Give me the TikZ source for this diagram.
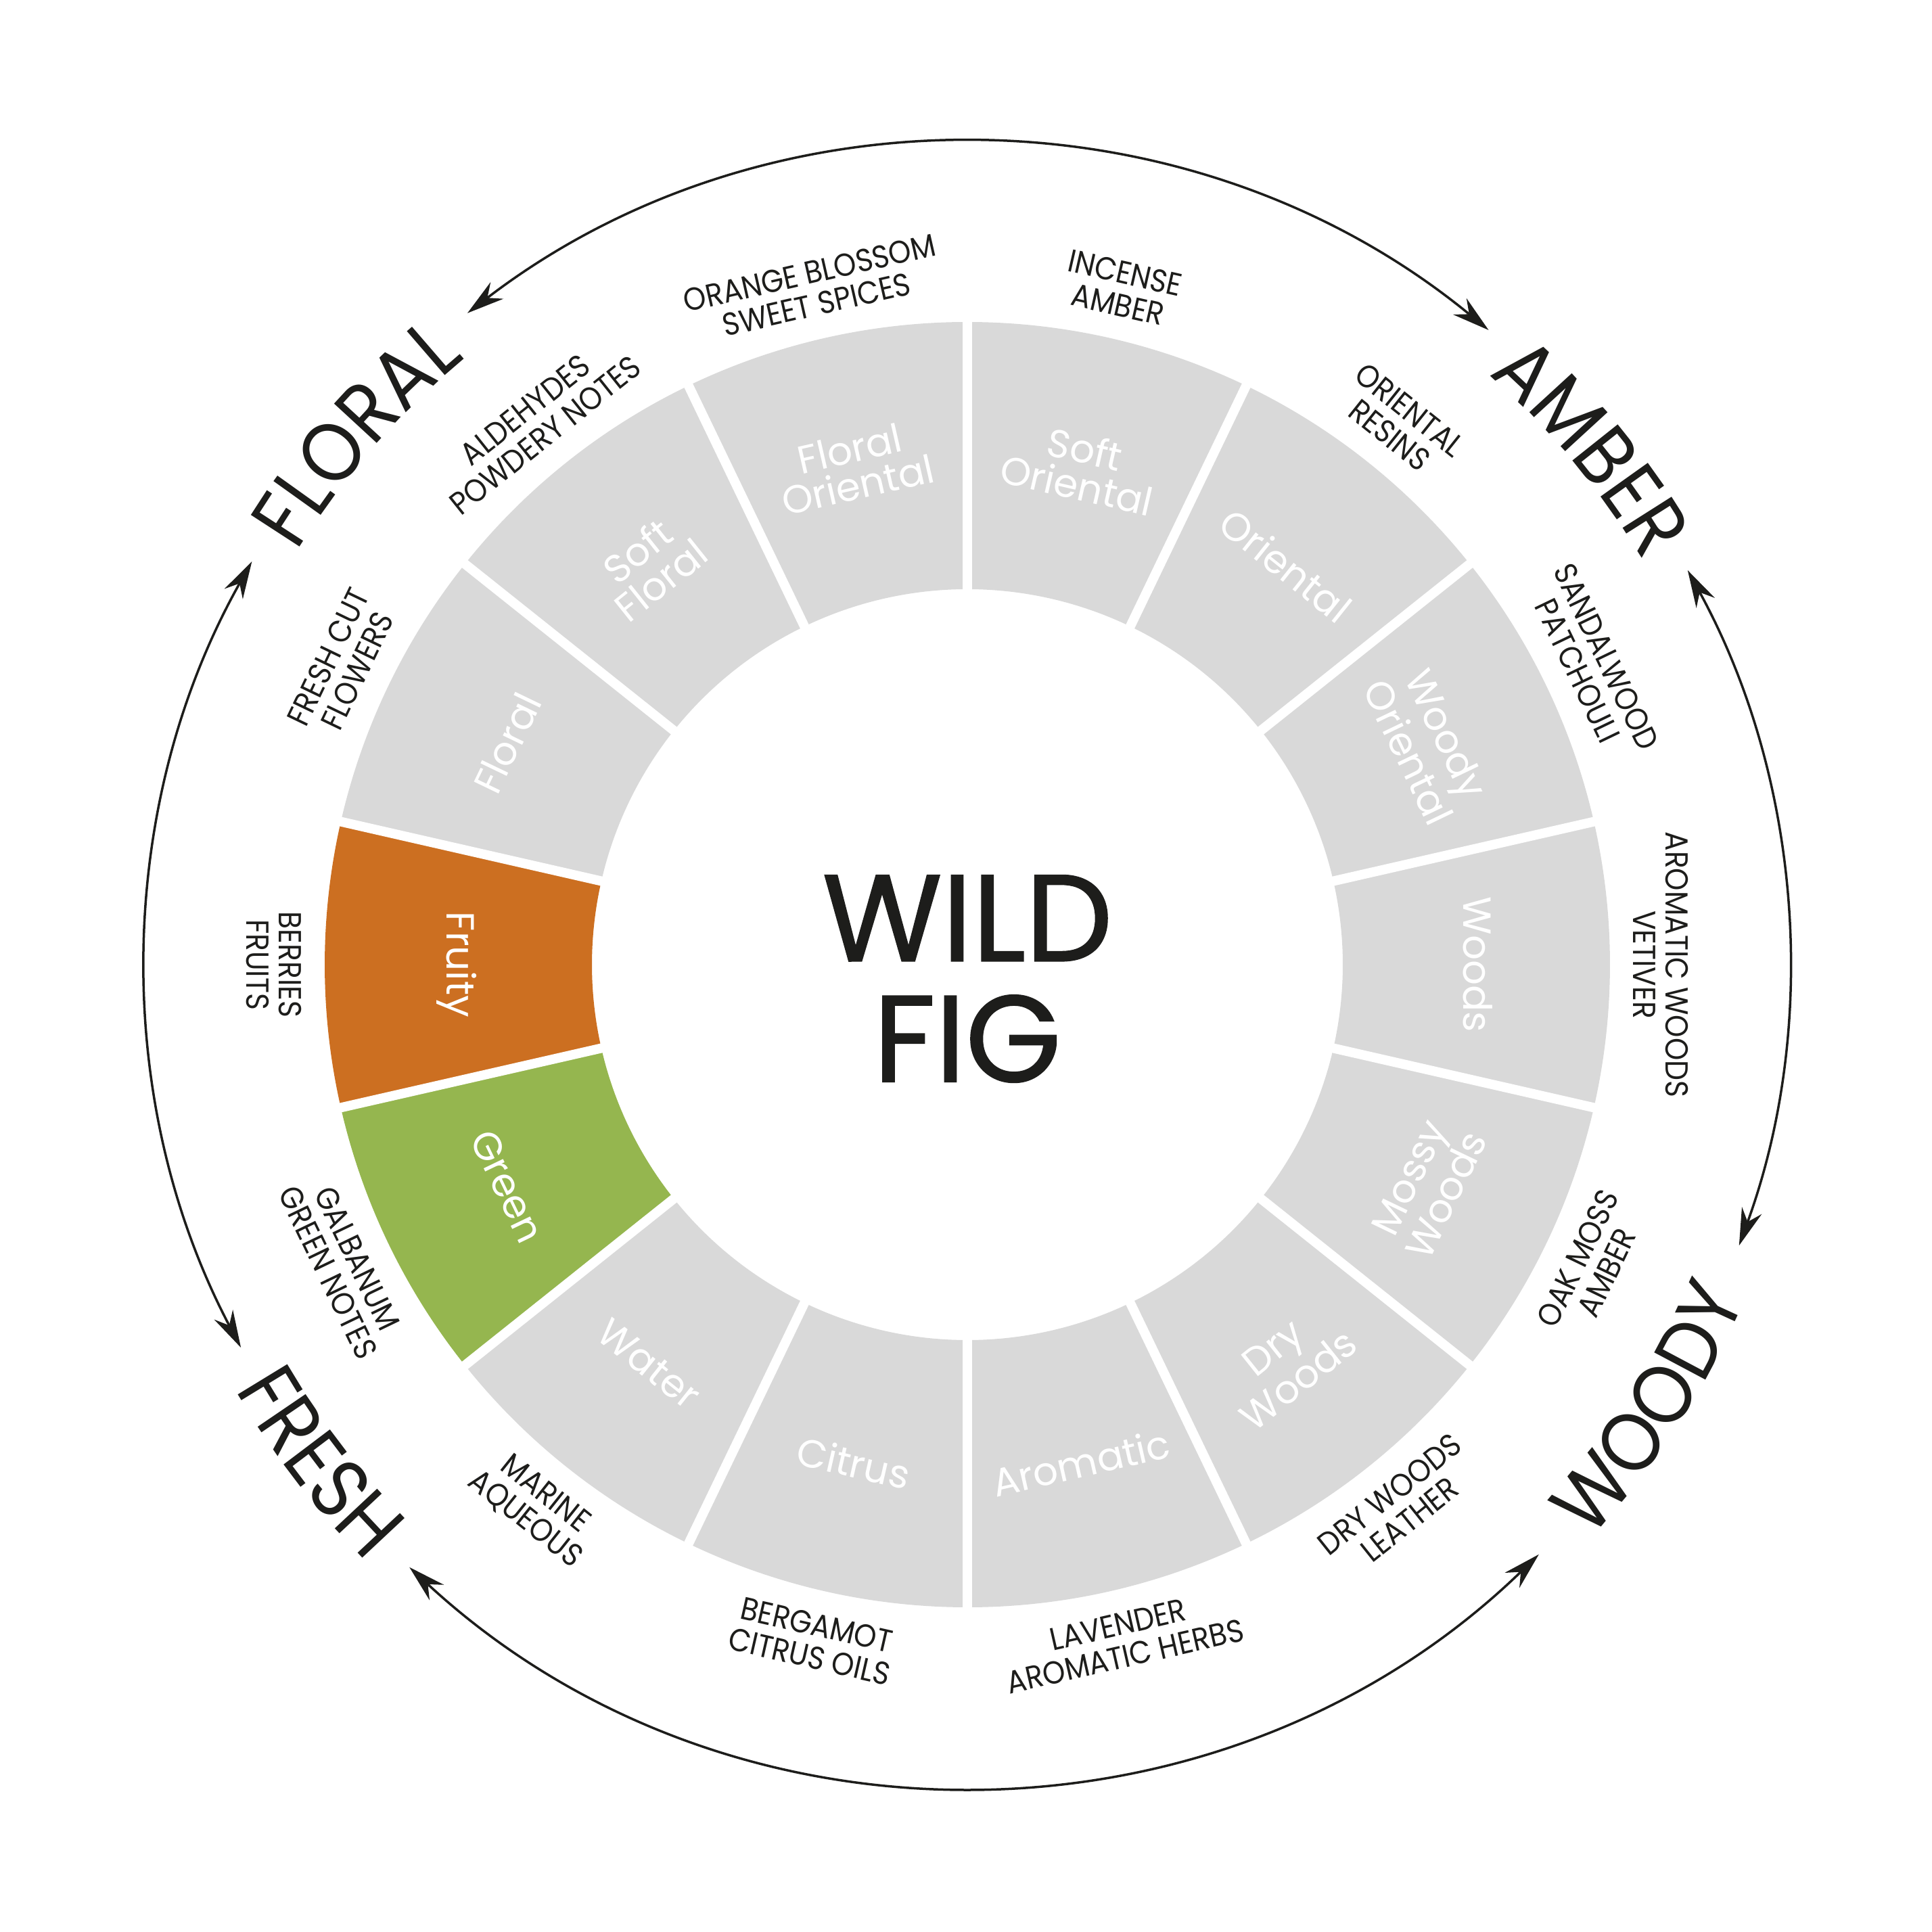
\documentclass[tikz,border=0pt]{standalone}
\usepackage{fontspec}
\setmainfont{Poppins}
\newfontfamily\wedgefont{Poppins}
\newfontfamily\notefont[FakeStretch=0.9]{Poppins}
\newfontfamily\catfont[FakeStretch=0.9]{Poppins}
\newfontfamily\titlefont[FakeBold=1.2]{Poppins}
\usetikzlibrary{arrows.meta,decorations.text}
\definecolor{wedgegray}{HTML}{D9D9D9}
\definecolor{fruityorange}{HTML}{CC6F21}
\definecolor{leafgreen}{HTML}{95B64F}
\definecolor{inkblack}{HTML}{1D1D1B}
\newcommand\catstyle{\catfont\fontsize{35}{35}\selectfont\color{inkblack}}
\begin{document}
\begin{tikzpicture}[
        > = {Stealth[length = 5.5mm, width = 3.1mm]},
        line width = 0.35mm,
        wedgelabel/.style = {text = white, align = center, inner sep = 0pt, font = \wedgefont\fontsize{16.5}{15.6}\selectfont},
        notelabel/.style = {text = inkblack, align = center, inner sep = 0pt, font = \notefont\fontsize{13.4}{13.6}\selectfont},
        titlelabel/.style = {text = inkblack, align = center, inner sep = 0pt, font = \titlefont\fontsize{51.7}{50.8}\selectfont},
        gapline/.style = {draw = white, line width = 1.4mm},
        catarc/.style = {draw = inkblack, <->}
    ]
        \useasboundingbox (-14.30,-14.30) rectangle (14.26,14.26);
        \foreach \k/\col/\name/\note in {
            0/wedgegray/{Floral\\Oriental}/{ORANGE BLOSSOM\\SWEET SPICES},
            1/wedgegray/{Soft\\Floral}/{ALDEHYDES\\POWDERY NOTES},
            2/wedgegray/{Floral}/{FRESH CUT\\FLOWERS},
            3/fruityorange/{Fruity}/{BERRIES\\FRUITS},
            4/leafgreen/{Green}/{GALBANUM\\GREEN NOTES},
            5/wedgegray/{Water}/{MARINE\\AQUEOUS},
            6/wedgegray/{Citrus}/{BERGAMOT\\CITRUS OILS},
            7/wedgegray/{Aromatic}/{LAVENDER\\AROMATIC HERBS},
            8/wedgegray/{Dry\\Woods}/{DRY WOODS\\LEATHER},
            9/wedgegray/{Mossy\\Woods}/{OAK MOSS\\AMBER},
            10/wedgegray/{Woods}/{AROMATIC WOODS\\VETIVER},
            11/wedgegray/{Woody\\Oriental}/{SANDALWOOD\\PATCHOULI},
            12/wedgegray/{Oriental}/{ORIENTAL\\RESINS},
            13/wedgegray/{Soft\\Oriental}/{INCENSE\\AMBER}}{
            \pgfmathsetmacro\lo{90 + \k*360/14}
            \pgfmathsetmacro\hi{\lo + 360/14}
            \pgfmathsetmacro\mid{\lo + 180/14}
            \pgfmathsetmacro\rot{ifthenelse(and(\mid > 179, \mid < 359), \mid + 90, \mid - 90)}
            \fill[\col] (\lo:9.5) arc[start angle = \lo, end angle = \hi, radius = 9.5] -- (\hi:5.55) arc[start angle = \hi, end angle = \lo, radius = 5.55] -- cycle;
            \node[wedgelabel, rotate = \rot] (w\k) at (\mid:7.55) {\name};
            \node[notelabel, rotate = \rot] (n\k) at (\mid:10.25) {\note};
        }
        \foreach \k in {0,...,13}
            \draw[gapline] (90 + \k*360/14:5.4) -- (90 + \k*360/14:9.65);
        \node[titlelabel] (title) at (0,-0.21) {WILD\\FIG};
        \draw[catarc] (50.6:12.14) arc[start angle = 50.6, end angle = 127.5, radius = 12.14];
        \draw[catarc] (150.6:12.14) arc[start angle = 150.6, end angle = 207.8, radius = 12.14];
        \draw[catarc] (227.2:12.14) arc[start angle = 227.2, end angle = 314.1, radius = 12.14];
        \draw[catarc] (-20:12.14) arc[start angle = -20, end angle = 28.7, radius = 12.14];
        \path[decorate, decoration = {text along path, text = {|\catstyle|FLORAL}, text align = center}] (154:11.64) arc[start angle = 154, end angle = 124, radius = 11.64];
        \path[decorate, decoration = {text along path, text = {|\catstyle|AMBER}, text align = center}] (54.65:11.64) arc[start angle = 54.65, end angle = 24.65, radius = 11.64];
        \path[decorate, decoration = {text along path, text = {|\catstyle|FRESH}, text align = center}] (202.5:12.52) arc[start angle = 202.5, end angle = 232.5, radius = 12.52];
        \path[decorate, decoration = {text along path, text = {|\catstyle|WOODY}, text align = center}] (-47.95:12.52) arc[start angle = -47.95, end angle = -17.95, radius = 12.52];
    \end{tikzpicture}
\end{document}
